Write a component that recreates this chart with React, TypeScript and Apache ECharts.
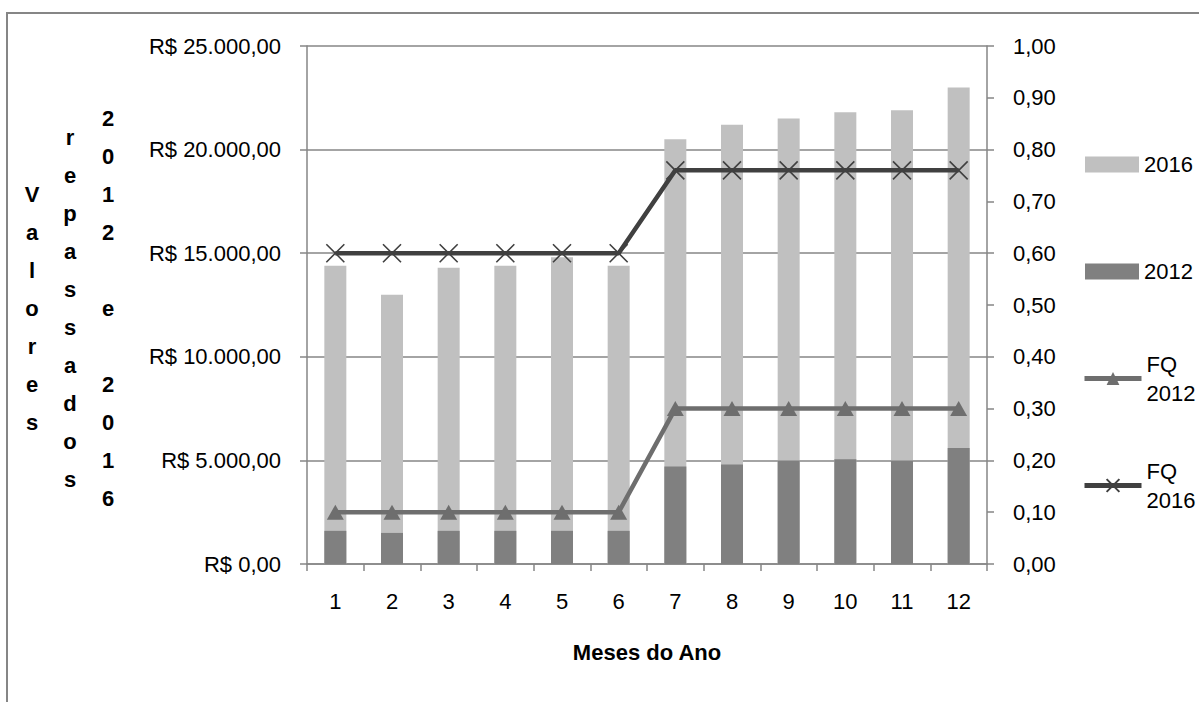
import React, { useEffect, useRef } from "react";
import * as echarts from "echarts";

const months = ["1", "2", "3", "4", "5", "6", "7", "8", "9", "10", "11", "12"];
const values2016 = [14400, 13000, 14300, 14400, 14800, 14400, 20500, 21200, 21500, 21800, 21900, 23000];
const values2012 = [1600, 1500, 1600, 1600, 1600, 1600, 4700, 4800, 5000, 5050, 5000, 5600];
const fq2012 = [0.1, 0.1, 0.1, 0.1, 0.1, 0.1, 0.3, 0.3, 0.3, 0.3, 0.3, 0.3];
const fq2016 = [0.6, 0.6, 0.6, 0.6, 0.6, 0.6, 0.76, 0.76, 0.76, 0.76, 0.76, 0.76];
const seriesNames = ["2016", "2012", "FQ 2012", "FQ 2016"];
const yTitleColumns = ["Valores", "repassados", "2012 e 2016"];
const xTitle = "Meses do Ano";

const FONT = "'Liberation Sans', Arial, sans-serif";
const GRAY = "#868686";
const FS = 22;

function brl(v: number): string {
  const s = Math.round(v).toString().replace(/\B(?=(\d{3})+(?!\d))/g, ".");
  return "R$ " + s + ",00";
}

export default function App() {
  const ref = useRef<HTMLDivElement>(null);
  useEffect(() => {
    if (!ref.current) return;
    const chart = echarts.init(ref.current, undefined, { renderer: "svg" });
    const colX = [32, 70, 108];
    const titleGraphics = yTitleColumns.map((word, i) => ({
      type: "text",
      x: colX[i],
      y: 308,
      style: {
        text: word.split("").join("\n"),
        align: "center",
        verticalAlign: "middle",
        fontSize: FS,
        fontWeight: "bold",
        fontFamily: FONT,
        lineHeight: 38,
        fill: "#000",
      },
    }));
    const option: any = {
      animation: false,
      backgroundColor: "#fff",
      grid: { left: 307, right: 212, top: 46, bottom: 138, containLabel: false },
      graphic: [
        {
          type: "rect",
          shape: { x: 7, y: 13, width: 1300, height: 800 },
          style: { fill: "none", stroke: GRAY, lineWidth: 2 },
          silent: true,
        },
        ...titleGraphics,
      ],
      legend: [
        {
          data: [seriesNames[0], seriesNames[1]],
          orient: "vertical",
          left: 1085,
          top: 150,
          padding: 0,
          itemWidth: 54,
          itemHeight: 16,
          itemGap: 78,
          icon: "rect",
          selectedMode: false,
          textStyle: { fontSize: FS, lineHeight: 29, color: "#000", fontFamily: FONT },
        },
        {
          data: [seriesNames[2], seriesNames[3]],
          orient: "vertical",
          left: 1082,
          top: 335,
          padding: 0,
          itemWidth: 57,
          itemHeight: 16,
          itemGap: 20,
          selectedMode: false,
          lineStyle: { width: 5 },
          formatter: (n: string) => n.replace(" ", "\n"),
          textStyle: {
            fontSize: FS,
            lineHeight: 29,
            color: "#000",
            fontFamily: FONT,
            padding: [29, 0, 0, 0],
          },
        },
      ],
      xAxis: {
        type: "category",
        data: months,
        axisLine: { lineStyle: { color: GRAY, width: 1.5 } },
        axisTick: { show: true, length: 7, lineStyle: { color: GRAY, width: 1.5 } },
        axisLabel: { color: "#000", fontSize: FS, fontFamily: FONT, margin: 26 },
        name: xTitle,
        nameLocation: "middle",
        nameGap: 77,
        nameTextStyle: { color: "#000", fontSize: FS, fontWeight: "bold", fontFamily: FONT },
      },
      yAxis: [
        {
          type: "value",
          min: 0,
          max: 25000,
          interval: 5000,
          position: "left",
          axisLine: { show: true, lineStyle: { color: GRAY, width: 1.5 } },
          axisTick: { show: true, length: 7, lineStyle: { color: GRAY, width: 1.5 } },
          splitLine: { show: true, lineStyle: { color: GRAY, width: 1.5 } },
          axisLabel: { color: "#000", fontSize: FS, fontFamily: FONT, margin: 26, formatter: brl },
        },
        {
          type: "value",
          min: 0,
          max: 1,
          interval: 0.1,
          position: "right",
          axisLine: { show: true, lineStyle: { color: GRAY, width: 1.5 } },
          axisTick: { show: true, length: 7, lineStyle: { color: GRAY, width: 1.5 } },
          splitLine: { show: false },
          axisLabel: {
            color: "#000",
            fontSize: FS,
            fontFamily: FONT,
            margin: 26,
            formatter: (v: number) => v.toFixed(2).replace(".", ","),
          },
        },
      ],
      series: [
        {
          name: seriesNames[0],
          type: "bar",
          data: values2016,
          barWidth: 22,
          itemStyle: { color: "#C0C0C0" },
        },
        {
          name: seriesNames[1],
          type: "bar",
          data: values2012,
          barWidth: 22,
          barGap: "-100%",
          itemStyle: { color: "#808080" },
        },
        {
          name: seriesNames[2],
          type: "line",
          yAxisIndex: 1,
          data: fq2012,
          symbol: "triangle",
          symbolSize: [17, 15],
          itemStyle: { color: "#6E6E6E" },
          lineStyle: { color: "#6E6E6E", width: 4.5 },
          z: 3,
        },
        {
          name: seriesNames[3],
          type: "line",
          yAxisIndex: 1,
          data: fq2016,
          symbol: "path://M0,0L16,16M16,0L0,16",
          symbolSize: 18,
          itemStyle: { color: "#404040", borderColor: "#404040", borderWidth: 1.6 },
          lineStyle: { color: "#404040", width: 4.5 },
          z: 4,
        },
      ],
    };
    chart.setOption(option);
    return () => chart.dispose();
  }, []);
  return (
    <div
      ref={ref}
      style={{ position: "absolute", left: 0, top: 0, width: 1199, height: 702, background: "#fff" }}
    />
  );
}
